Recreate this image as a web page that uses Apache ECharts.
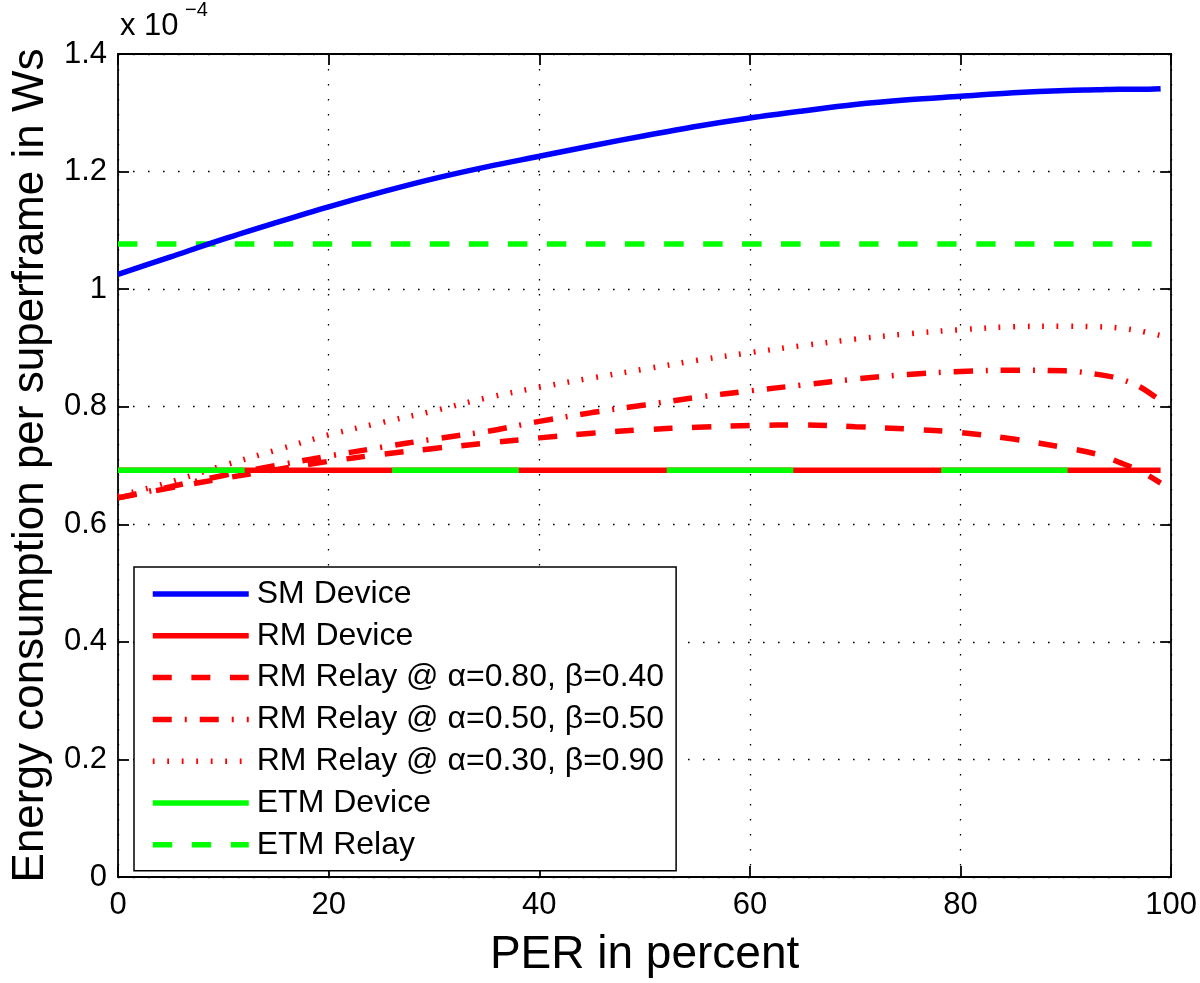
<!DOCTYPE html>
<html>
<head>
<meta charset="utf-8">
<script src="https://cdn.jsdelivr.net/npm/echarts@6/dist/echarts.min.js"></script>
<style>
html,body{margin:0;padding:0;background:#fff;}
#chart{width:1200px;height:983px;}
</style>
</head>
<body>
<div id="chart"></div>
<script>
// PER in percent
const perX = [0,5,10,15,20,25,30,35,40,45,50,55,60,65,70,75,80,85,90,93,95,97,99];
// Energy in units of 1e-4 Ws
const smDevice   = [1.025,1.055,1.085,1.113,1.140,1.165,1.188,1.208,1.226,1.244,1.261,1.277,1.291,1.303,1.314,1.322,1.328,1.334,1.338,1.339,1.340,1.340,1.341];
const rmRelay80  = [0.645,0.662,0.678,0.693,0.707,0.719,0.729,0.738,0.747,0.755,0.761,0.765,0.768,0.769,0.766,0.762,0.756,0.745,0.730,0.719,0.706,0.691,0.670];
const rmRelay50  = [0.645,0.664,0.683,0.700,0.716,0.731,0.745,0.758,0.775,0.790,0.803,0.816,0.827,0.837,0.847,0.855,0.860,0.862,0.861,0.855,0.848,0.834,0.810];
const rmRelay30  = [0.648,0.672,0.700,0.726,0.752,0.773,0.793,0.815,0.833,0.849,0.864,0.879,0.892,0.904,0.915,0.924,0.931,0.936,0.937,0.936,0.934,0.929,0.921];
const rmDeviceX  = [0,99];
const rmDevice   = [0.692,0.692];
const etmDeviceX = [0,99];
const etmDevice  = [0.692,0.692];
const etmRelayX  = [0,99];
const etmRelay   = [1.077,1.077];
const seriesNames = ['SM Device','RM Device','RM Relay @ α=0.80, β=0.40','RM Relay @ α=0.50, β=0.50','RM Relay @ α=0.30, β=0.90','ETM Device','ETM Relay'];
const xTicks = {min:0,max:100,interval:20};
const yTicks = {min:0,max:1.4,interval:0.2};

const FONT = '"Liberation Sans", Arial, Helvetica, sans-serif';
const pair = (xs, ys) => xs.map((x,i)=>[x, ys[i]]);
const W = 5.5;

const chart = echarts.init(document.getElementById('chart'), null, {renderer:'canvas'});
const gridLine = {show:true, lineStyle:{color:'#000', width:1.3, type:[1.6,13.4]}};
const baseAxis = {
  axisLine:{show:true, onZero:false, lineStyle:{color:'#000', width:1.8}},
  axisTick:{show:true, inside:true, length:11, lineStyle:{color:'#000', width:1.8}},
};
function line(name, data, color, type, z){
  return {name, type:'line', data, symbol:'none', smooth:0.35, z:z||2,
    lineStyle:{color, width:W, type, cap:'butt'}, itemStyle:{color}, emphasis:{disabled:true}};
}
chart.setOption({
  animation:false,
  backgroundColor:'#fff',
  grid:{left:118, right:27, top:54, bottom:99},
  xAxis:[
    Object.assign({type:'value', min:xTicks.min, max:xTicks.max, interval:xTicks.interval, position:'bottom',
      name:'PER in percent', nameLocation:'middle', nameGap:55,
      nameTextStyle:{fontSize:46, color:'#000', fontFamily:FONT},
      axisLabel:{fontSize:31, color:'#000', margin:13, fontFamily:FONT},
      splitLine:gridLine}, baseAxis),
    Object.assign({type:'value', min:xTicks.min, max:xTicks.max, interval:xTicks.interval, position:'top',
      axisLabel:{show:false}, splitLine:{show:false}}, baseAxis)
  ],
  yAxis:[
    Object.assign({type:'value', min:yTicks.min, max:yTicks.max, interval:yTicks.interval, position:'left',
      name:'Energy consumption per superframe in Ws', nameLocation:'middle', nameGap:64, nameRotate:90,
      nameTextStyle:{fontSize:44, color:'#000', fontFamily:FONT},
      axisLabel:{fontSize:31, color:'#000', margin:11, fontFamily:FONT,
        formatter:v=>String(Math.round(v*10)/10)},
      splitLine:gridLine}, baseAxis),
    Object.assign({type:'value', min:yTicks.min, max:yTicks.max, interval:yTicks.interval, position:'right',
      axisLabel:{show:false}, splitLine:{show:false}}, baseAxis)
  ],
  legend:{
    orient:'vertical', left:134, top:567,
    data:seriesNames,
    itemWidth:96, itemHeight:14, itemGap:9.8,
    padding:[11,12,10,16],
    backgroundColor:'#fff', borderColor:'#000', borderWidth:1.5,
    itemStyle:{opacity:0},
    lineStyle:{width:W, cap:'butt'},
    textStyle:{fontSize:32, color:'#000', fontFamily:FONT, lineHeight:32, padding:[0,0,0,3]},
    selectedMode:false
  },
  graphic:[
    {type:'text', left:120, top:11, style:{text:'x 10', fontSize:31, fontFamily:FONT, fill:'#000'}},
    {type:'text', left:185, top:0, style:{text:'−4', fontSize:20, fontFamily:FONT, fill:'#000'}}
  ],
  series:[
    line(seriesNames[0], pair(perX, smDevice), '#0000ff', 'solid', 3),
    line(seriesNames[1], pair(rmDeviceX, rmDevice), '#ff0000', 'solid', 2),
    line(seriesNames[2], pair(perX, rmRelay80), '#ff0000', [19,19.6], 2),
    line(seriesNames[3], pair(perX, rmRelay50), '#ff0000', [19,13,2,13], 2),
    line(seriesNames[4], pair(perX, rmRelay30), '#ff0000', [1.8,12.7], 2),
    line(seriesNames[5], pair(etmDeviceX, etmDevice), '#00ff00', [126.6,147.7], 2),
    line(seriesNames[6], pair(etmRelayX, etmRelay), '#00ff00', [19.5,19.5], 2)
  ]
});
</script>
</body>
</html>
